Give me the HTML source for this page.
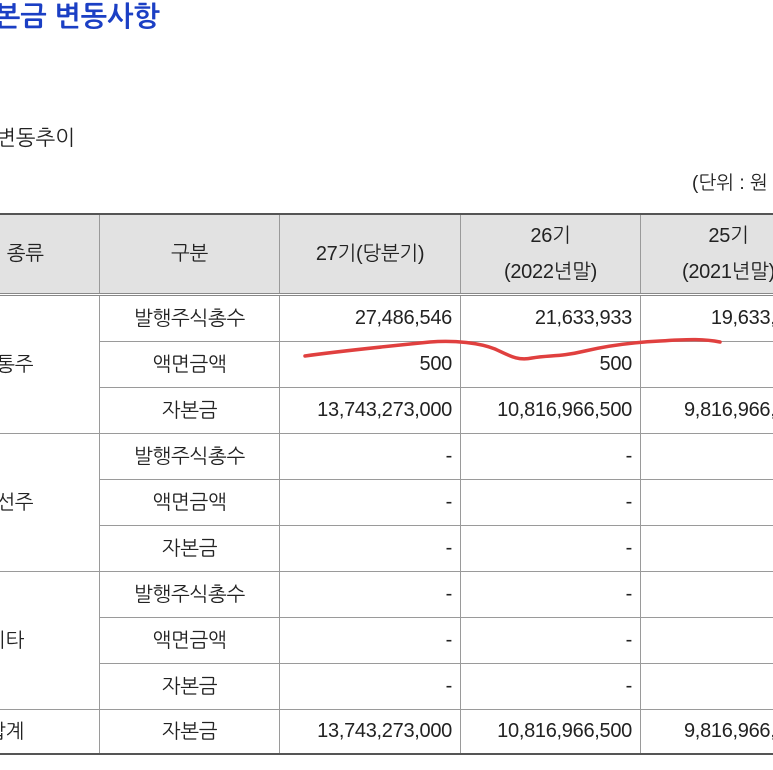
<!DOCTYPE html>
<html><head><meta charset="utf-8">
<style>
body{margin:0;width:773px;height:770px;overflow:hidden;background:#fff;position:relative;font-family:"Liberation Sans","NanumGothic","Noto Sans CJK KR",sans-serif;color:#222}
.t{position:absolute;white-space:nowrap}
table{position:absolute;left:-89px;top:213px;width:905px;border-collapse:collapse;table-layout:fixed;font-size:20px;font-family:"Liberation Sans Narrow","Liberation Sans","NanumGothic","Noto Sans CJK KR",sans-serif;letter-spacing:-0.3px}
td{border:1px solid #9a9a9a;padding:0 8px;text-align:center;height:45px;white-space:nowrap;overflow:hidden}
tr.h td{background:#e2e2e2;height:78px;border-top:2px solid #555;border-bottom:3px double #888;line-height:36px}
td.n{text-align:right}
tr.last td{border-bottom:2px solid #555;height:43px}
</style></head><body>
<div class="t" style="left:-6px;top:1px;font-size:28px;font-weight:bold;color:#1b3fc4">본금 변동사항</div>
<div class="t" style="left:-4px;top:126px;font-size:21px">변동추이</div>
<div class="t" style="left:692px;top:171px;font-size:19px">(단위 : 원</div>
<table>
<colgroup><col style="width:188px"><col style="width:180px"><col style="width:181px"><col style="width:180px"><col style="width:176px"></colgroup>
<tr class="h"><td style="text-align:left;padding-left:34px">주식의 종류</td><td>구분</td><td>27기(당분기)</td><td>26기<br>(2022년말)</td><td>25기<br>(2021년말)</td></tr>
<tr><td rowspan="3">보통주</td><td>발행주식총수</td><td class="n">27,486,546</td><td class="n">21,633,933</td><td class="n">19,633,933</td></tr>
<tr><td>액면금액</td><td class="n">500</td><td class="n">500</td><td class="n">500</td></tr>
<tr><td>자본금</td><td class="n">13,743,273,000</td><td class="n">10,816,966,500</td><td class="n">9,816,966,500</td></tr>
<tr><td rowspan="3">우선주</td><td>발행주식총수</td><td class="n">-</td><td class="n">-</td><td class="n">-</td></tr>
<tr><td>액면금액</td><td class="n">-</td><td class="n">-</td><td class="n">-</td></tr>
<tr><td>자본금</td><td class="n">-</td><td class="n">-</td><td class="n">-</td></tr>
<tr><td rowspan="3">기타</td><td>발행주식총수</td><td class="n">-</td><td class="n">-</td><td class="n">-</td></tr>
<tr><td>액면금액</td><td class="n">-</td><td class="n">-</td><td class="n">-</td></tr>
<tr><td>자본금</td><td class="n">-</td><td class="n">-</td><td class="n">-</td></tr>
<tr class="last"><td>합계</td><td>자본금</td><td class="n">13,743,273,000</td><td class="n">10,816,966,500</td><td class="n">9,816,966,500</td></tr>
</table>
<svg width="773" height="770" style="position:absolute;left:0;top:0">
<path d="M305,356 C340,351 390,346 430,342 C455,340 480,343 495,349 C510,356 518,361 532,358 C550,355 560,357 585,351 C615,344 640,342 660,341 C690,339 705,339 720,342" fill="none" stroke="#e0403f" stroke-width="3.5" stroke-linecap="round"/>
</svg>
</body></html>
